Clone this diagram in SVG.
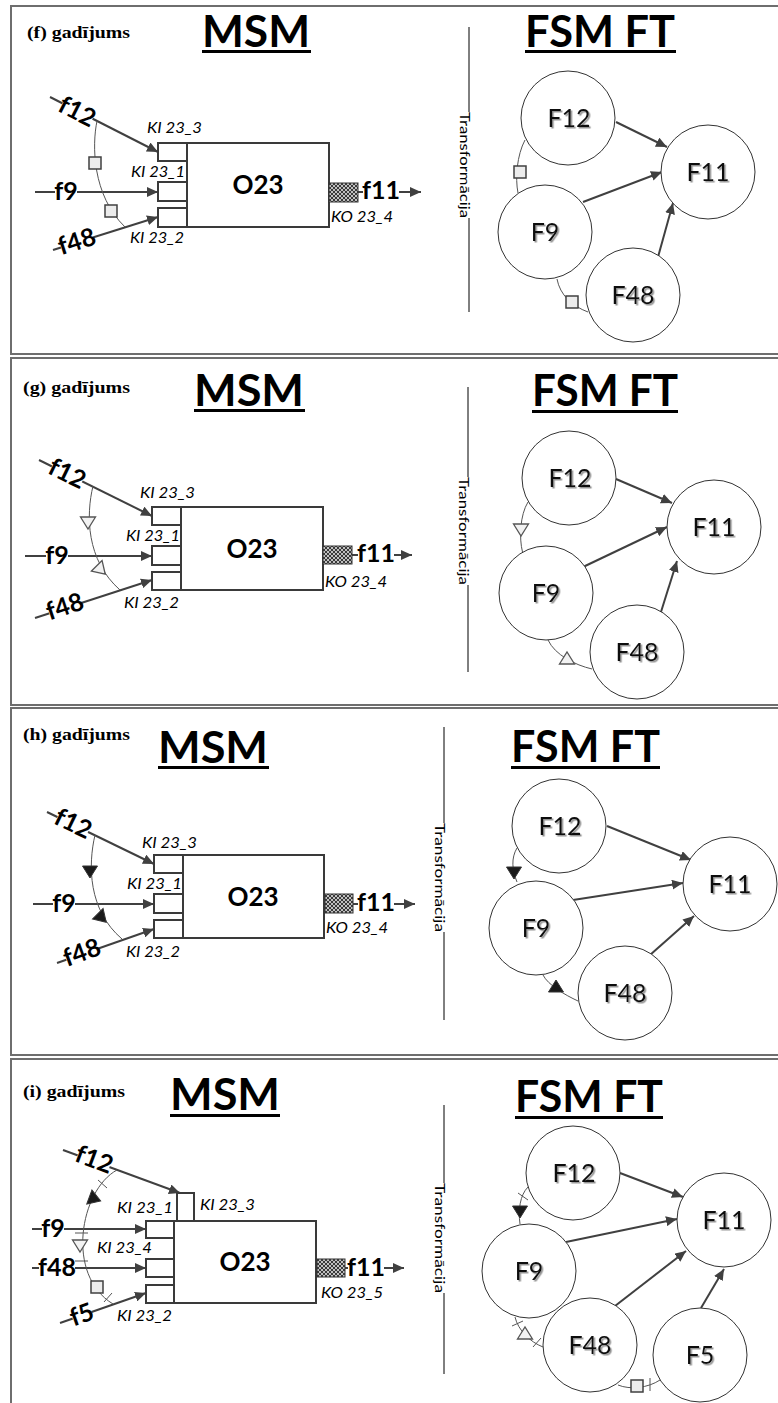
<svg xmlns="http://www.w3.org/2000/svg" width="778" height="1403" viewBox="0 0 778 1403">
<style>
.frame{fill:none;stroke:#6e6e6e;stroke-width:2}
.case{font-family:"Liberation Serif",serif;font-weight:bold;font-size:17px;fill:#000}
.title{font-family:Lato,"Open Sans",sans-serif;font-weight:bold;font-size:43px;fill:#000}
.ul{fill:#000}
.tr{font-family:Lato,"Open Sans",sans-serif;font-size:14px;fill:#000}
.vl{stroke:#000;stroke-width:1;fill:none}
.port{fill:#fff;stroke:#3a3a3a;stroke-width:2}
.box{fill:#fff;stroke:#3a3a3a;stroke-width:2}
.hatch{fill:url(#hp);stroke:#333;stroke-width:1}
.obj{font-family:Lato,"Open Sans",sans-serif;font-weight:bold;font-size:26px;fill:#000;text-anchor:middle}
.ki{font-family:Lato,"Open Sans",sans-serif;font-style:italic;font-size:15px;fill:#000}
.fl{font-family:Lato,"Open Sans",sans-serif;font-weight:bold;font-size:25px;fill:#000}
.flc{text-anchor:middle}
.bg{fill:#fff;stroke:none}
.arr{stroke:#404040;stroke-width:2;fill:none;marker-end:url(#ah)}
.cv{stroke:#555;stroke-width:1;fill:none}
.sq{fill:#ececec;stroke:#404040;stroke-width:1.5}
.tw{fill:#f2f2f2;stroke:#555;stroke-width:1.3}
.tb{fill:#1a1a1a;stroke:#333;stroke-width:1}
.tick{stroke:#555;stroke-width:1;fill:none}
.circ{fill:#fff;stroke:#333;stroke-width:1}
.fn{font-family:Lato,"Open Sans",sans-serif;font-size:25px;fill:#111;text-anchor:middle;filter:url(#sh)}
</style>
<defs>
<marker id="ah" markerUnits="userSpaceOnUse" markerWidth="12" markerHeight="10" refX="11" refY="5" orient="auto"><path d="M0,0 L11,5 L0,10 z" fill="#404040"/></marker>
<pattern id="hp" width="4" height="4" patternUnits="userSpaceOnUse"><rect width="4" height="4" fill="#3a3a3a"/><path d="M0,0 L4,4 M4,0 L0,4" stroke="#cfcfcf" stroke-width="0.9"/></pattern>
<filter id="sh" x="-20%" y="-20%" width="150%" height="150%"><feDropShadow dx="1.5" dy="1.5" stdDeviation="0.6" flood-color="#888" flood-opacity="0.9"/></filter>
</defs>
<rect width="778" height="1403" fill="#fff"/>

<!-- ================= PANEL F ================= -->
<g id="panel-f">
<rect class="frame" x="11" y="6" width="790" height="348"/>
<text class="case" x="27" y="38" textLength="103" lengthAdjust="spacingAndGlyphs">(f) gadījums</text>
<text class="title" x="202" y="47" textLength="108" lengthAdjust="spacingAndGlyphs">MSM</text>
<rect class="ul" x="202" y="50" width="109" height="3"/>
<text class="title" x="525" y="47" textLength="150" lengthAdjust="spacingAndGlyphs">FSM FT</text>
<rect class="ul" x="525" y="50" width="151" height="3"/>
<g id="f-transform">
<line class="vl" x1="469" y1="27" x2="469" y2="112"/>
<text class="tr" transform="translate(460,112) rotate(90)" textLength="106" lengthAdjust="spacingAndGlyphs">Transformācija</text>
<line class="vl" x1="469" y1="218" x2="469" y2="312"/>
</g>
<g id="f-connectors">
<line class="arr" x1="50" y1="97" x2="158" y2="152"/>
<line class="arr" x1="35" y1="192" x2="158" y2="192"/>
<line class="arr" x1="53" y1="250" x2="158" y2="217"/>
<line class="arr" x1="358" y1="192" x2="421" y2="192"/>
<path class="cv" d="M97,121 C92,145 92,195 125,227"/>
<rect class="sq" x="89" y="157" width="12" height="12"/>
<rect class="sq" x="105" y="205" width="12" height="12"/>
<line class="arr" x1="616" y1="122" x2="667" y2="147"/>
<line class="arr" x1="583" y1="202" x2="662" y2="172"/>
<line class="arr" x1="658" y1="257" x2="673" y2="203"/>
<path class="cv" d="M525,140 C517,155 515,178 518,193"/>
<rect class="sq" x="514" y="166" width="12" height="12"/>
<path class="cv" d="M557,279 C560,295 572,306 588,312"/>
<rect class="sq" x="566" y="296" width="12" height="12"/>
</g>
<g id="f-O23">
<rect class="port" x="158" y="143" width="29" height="18"/>
<rect class="port" x="158" y="182" width="29" height="19"/>
<rect class="port" x="158" y="208" width="29" height="19"/>
<rect class="box" x="187" y="143" width="142" height="84"/>
<rect class="hatch" x="329" y="183" width="29" height="19"/>
<text class="obj" x="258" y="194">O23</text>
<text class="ki" x="147" y="133" textLength="55" lengthAdjust="spacingAndGlyphs">KI 23_3</text>
<text class="ki" x="131" y="177" textLength="54" lengthAdjust="spacingAndGlyphs">KI 23_1</text>
<text class="ki" x="130" y="243" textLength="54" lengthAdjust="spacingAndGlyphs">KI 23_2</text>
<text class="ki" x="331" y="222" textLength="62" lengthAdjust="spacingAndGlyphs">KO 23_4</text>
</g>
<g id="f-flows">
<g transform="translate(77,112) rotate(27)"><rect class="bg" x="-17" y="-6" width="34" height="12"/><text class="fl flc" y="8">f12</text></g>
<rect class="bg" x="55" y="186" width="22" height="12"/><text class="fl flc" x="66" y="200">f9</text>
<g transform="translate(77,242) rotate(-17.6)"><rect class="bg" x="-17" y="-6" width="34" height="12"/><text class="fl flc" y="8">f48</text></g>
<rect class="bg" x="363" y="186" width="36" height="12"/><text class="fl" x="362" y="199">f11</text>
</g>
<g id="f-F12"><circle class="circ" cx="568" cy="118" r="47"/><text class="fn" x="569" y="127">F12</text></g>
<g id="f-F11"><circle class="circ" cx="708" cy="172" r="47"/><text class="fn" x="708" y="181">F11</text></g>
<g id="f-F9"><circle class="circ" cx="545" cy="232" r="47"/><text class="fn" x="545" y="241">F9</text></g>
<g id="f-F48"><circle class="circ" cx="633" cy="295" r="47"/><text class="fn" x="633" y="304">F48</text></g>
</g>

<!-- ================= PANEL G ================= -->
<g id="panel-g">
<rect class="frame" x="11" y="358" width="790" height="347"/>
<text class="case" x="23" y="393" textLength="107" lengthAdjust="spacingAndGlyphs">(g) gadījums</text>
<text class="title" x="194" y="406" textLength="110" lengthAdjust="spacingAndGlyphs">MSM</text>
<rect class="ul" x="194" y="409" width="111" height="3"/>
<text class="title" x="532" y="406" textLength="146" lengthAdjust="spacingAndGlyphs">FSM FT</text>
<rect class="ul" x="532" y="410" width="146" height="3"/>
<g id="g-transform">
<line class="vl" x1="468" y1="387" x2="468" y2="477"/>
<text class="tr" transform="translate(459,477) rotate(90)" textLength="108" lengthAdjust="spacingAndGlyphs">Transformācija</text>
<line class="vl" x1="468" y1="585" x2="468" y2="672"/>
</g>
<g id="g-connectors">
<line class="arr" x1="39" y1="460" x2="152" y2="516"/>
<line class="arr" x1="25" y1="556" x2="152" y2="556"/>
<line class="arr" x1="35" y1="618" x2="152" y2="580"/>
<line class="arr" x1="352" y1="555" x2="412" y2="555"/>
<path class="cv" d="M93,486 C86,515 86,560 120,590"/>
<polygon class="tw" transform="translate(88,523)" points="-7.5,-6 7.5,-6 0,6"/>
<polygon class="tw" transform="translate(101,570) rotate(-45)" points="-7.5,-6 7.5,-6 0,6"/>
<line class="arr" x1="616" y1="479" x2="672" y2="503"/>
<line class="arr" x1="583" y1="567" x2="667" y2="527"/>
<line class="arr" x1="660" y1="615" x2="677" y2="561"/>
<path class="cv" d="M528,502 C520,515 519,538 522.5,552"/>
<polygon class="tw" transform="translate(521,530)" points="-7.5,-6 7.5,-6 0,6"/>
<path class="cv" d="M548,640 C555,655 575,665 592,669"/>
<polygon class="tw" transform="translate(567,658)" points="-7.5,6 7.5,6 0,-6"/>
</g>
<g id="g-O23">
<rect class="port" x="152" y="507" width="29" height="18"/>
<rect class="port" x="152" y="546" width="29" height="19"/>
<rect class="port" x="152" y="572" width="29" height="18"/>
<rect class="box" x="181" y="507" width="142" height="83"/>
<rect class="hatch" x="323" y="546" width="29" height="18"/>
<text class="obj" x="252" y="558">O23</text>
<text class="ki" x="140" y="498" textLength="55" lengthAdjust="spacingAndGlyphs">KI 23_3</text>
<text class="ki" x="126" y="541" textLength="54" lengthAdjust="spacingAndGlyphs">KI 23_1</text>
<text class="ki" x="124" y="608" textLength="55" lengthAdjust="spacingAndGlyphs">KI 23_2</text>
<text class="ki" x="325" y="587" textLength="62" lengthAdjust="spacingAndGlyphs">KO 23_4</text>
</g>
<g id="g-flows">
<g transform="translate(67,474) rotate(26)"><rect class="bg" x="-17" y="-6" width="34" height="12"/><text class="fl flc" y="8">f12</text></g>
<rect class="bg" x="46" y="550" width="22" height="12"/><text class="fl flc" x="57" y="564">f9</text>
<g transform="translate(65,607) rotate(-18.4)"><rect class="bg" x="-17" y="-6" width="34" height="12"/><text class="fl flc" y="8">f48</text></g>
<rect class="bg" x="358" y="549" width="36" height="12"/><text class="fl" x="357" y="562">f11</text>
</g>
<g id="g-F12"><circle class="circ" cx="569" cy="478" r="47"/><text class="fn" x="570" y="487">F12</text></g>
<g id="g-F11"><circle class="circ" cx="714" cy="527" r="47"/><text class="fn" x="714" y="536">F11</text></g>
<g id="g-F9"><circle class="circ" cx="546" cy="593" r="47"/><text class="fn" x="546" y="602">F9</text></g>
<g id="g-F48"><circle class="circ" cx="637" cy="652" r="47"/><text class="fn" x="637" y="661">F48</text></g>
</g>

<!-- ================= PANEL H ================= -->
<g id="panel-h">
<rect class="frame" x="11" y="708" width="790" height="347"/>
<text class="case" x="23" y="740" textLength="107" lengthAdjust="spacingAndGlyphs">(h) gadījums</text>
<text class="title" x="158" y="763" textLength="110" lengthAdjust="spacingAndGlyphs">MSM</text>
<rect class="ul" x="158" y="766" width="111" height="3"/>
<text class="title" x="511" y="762" textLength="149" lengthAdjust="spacingAndGlyphs">FSM FT</text>
<rect class="ul" x="511" y="766" width="149" height="3"/>
<g id="h-transform">
<line class="vl" x1="444" y1="727" x2="444" y2="823"/>
<text class="tr" transform="translate(435,823) rotate(90)" textLength="109" lengthAdjust="spacingAndGlyphs">Transformācija</text>
<line class="vl" x1="444" y1="932" x2="444" y2="1020"/>
</g>
<g id="h-connectors">
<line class="arr" x1="47" y1="812" x2="154" y2="864"/>
<line class="arr" x1="33" y1="904" x2="154" y2="904"/>
<line class="arr" x1="57" y1="963" x2="154" y2="929"/>
<line class="arr" x1="353" y1="904" x2="415" y2="904"/>
<path class="cv" d="M95,835 C88,865 88,910 122,939"/>
<polygon class="tb" transform="translate(90,872)" points="-7.5,-6 7.5,-6 0,6"/>
<polygon class="tb" transform="translate(102,918) rotate(-45)" points="-7.5,-6 7.5,-6 0,6"/>
<line class="arr" x1="607" y1="826" x2="691" y2="860"/>
<line class="arr" x1="573" y1="900" x2="683" y2="883"/>
<line class="arr" x1="650" y1="955" x2="694" y2="916"/>
<path class="cv" d="M517,848 C511,858 512,870 517,882"/>
<polygon class="tb" transform="translate(514,873)" points="-7.5,-6 7.5,-6 0,6"/>
<path class="cv" d="M543,975 C548,985 565,995 578,1001"/>
<polygon class="tb" transform="translate(556,986)" points="-7.5,6 7.5,6 0,-6"/>
</g>
<g id="h-O23">
<rect class="port" x="154" y="855" width="29" height="18"/>
<rect class="port" x="154" y="894" width="29" height="19"/>
<rect class="port" x="154" y="920" width="29" height="18"/>
<rect class="box" x="183" y="855" width="141" height="83"/>
<rect class="hatch" x="325" y="894" width="28" height="19"/>
<text class="obj" x="253" y="906">O23</text>
<text class="ki" x="142" y="848" textLength="55" lengthAdjust="spacingAndGlyphs">KI 23_3</text>
<text class="ki" x="127" y="889" textLength="55" lengthAdjust="spacingAndGlyphs">KI 23_1</text>
<text class="ki" x="126" y="957" textLength="54" lengthAdjust="spacingAndGlyphs">KI 23_2</text>
<text class="ki" x="326" y="933" textLength="62" lengthAdjust="spacingAndGlyphs">KO 23_4</text>
</g>
<g id="h-flows">
<g transform="translate(73,824) rotate(25.7)"><rect class="bg" x="-17" y="-6" width="34" height="12"/><text class="fl flc" y="8">f12</text></g>
<rect class="bg" x="53" y="898" width="22" height="12"/><text class="fl flc" x="64" y="912">f9</text>
<g transform="translate(82,953) rotate(-20)"><rect class="bg" x="-17" y="-6" width="34" height="12"/><text class="fl flc" y="8">f48</text></g>
<rect class="bg" x="358" y="898" width="36" height="12"/><text class="fl" x="357" y="911">f11</text>
</g>
<g id="h-F12"><circle class="circ" cx="559" cy="826" r="47"/><text class="fn" x="560" y="835">F12</text></g>
<g id="h-F11"><circle class="circ" cx="730" cy="884" r="47"/><text class="fn" x="730" y="893">F11</text></g>
<g id="h-F9"><circle class="circ" cx="536" cy="928" r="47"/><text class="fn" x="536" y="937">F9</text></g>
<g id="h-F48"><circle class="circ" cx="625" cy="993" r="47"/><text class="fn" x="625" y="1002">F48</text></g>
</g>

<!-- ================= PANEL I ================= -->
<g id="panel-i">
<rect class="frame" x="11" y="1059" width="790" height="400"/>
<text class="case" x="23" y="1097" textLength="102" lengthAdjust="spacingAndGlyphs">(i) gadījums</text>
<text class="title" x="170" y="1110" textLength="110" lengthAdjust="spacingAndGlyphs">MSM</text>
<rect class="ul" x="170" y="1114" width="110" height="3"/>
<text class="title" x="515" y="1112" textLength="148" lengthAdjust="spacingAndGlyphs">FSM FT</text>
<rect class="ul" x="515" y="1116" width="148" height="3"/>
<g id="i-transform">
<line class="vl" x1="444" y1="1105" x2="444" y2="1183"/>
<text class="tr" transform="translate(435,1183) rotate(90)" textLength="110" lengthAdjust="spacingAndGlyphs">Transformācija</text>
<line class="vl" x1="444" y1="1293" x2="444" y2="1374"/>
</g>
<g id="i-connectors">
<line class="arr" x1="63" y1="1150" x2="180" y2="1193"/>
<line class="arr" x1="32" y1="1229" x2="146" y2="1229"/>
<line class="arr" x1="32" y1="1268" x2="146" y2="1268"/>
<line class="arr" x1="60" y1="1323" x2="146" y2="1293"/>
<line class="arr" x1="345" y1="1268" x2="404" y2="1268"/>
<path class="cv" d="M117,1170 C80,1190 65,1275 113,1304"/>
<line class="tick" x1="98" y1="1180" x2="107" y2="1188"/>
<polygon class="tb" transform="translate(95,1199) rotate(-70)" points="-7.5,-6 7.5,-6 0,6"/>
<line class="tick" x1="75" y1="1233" x2="88" y2="1233"/>
<polygon class="tw" transform="translate(80,1246)" points="-7.5,-6 7.5,-6 0,6"/>
<line class="tick" x1="75" y1="1261" x2="88" y2="1261"/>
<rect class="sq" x="91" y="1281" width="12" height="12"/>
<line class="tick" x1="104" y1="1302" x2="112" y2="1293"/>
<line class="arr" x1="620" y1="1173" x2="683" y2="1197"/>
<line class="arr" x1="566" y1="1242" x2="677" y2="1219"/>
<line class="arr" x1="615" y1="1306" x2="686" y2="1251"/>
<line class="arr" x1="701" y1="1308" x2="724" y2="1269"/>
<path class="cv" d="M528,1187 C520,1195 518,1210 520,1224"/>
<line class="tick" x1="518" y1="1193" x2="528" y2="1200"/>
<polygon class="tb" transform="translate(520,1212)" points="-7.5,-6 7.5,-6 0,6"/>
<path class="cv" d="M515,1317 C518,1330 530,1342 543,1347"/>
<line class="tick" x1="512" y1="1326" x2="523" y2="1321"/>
<polygon class="tw" transform="translate(525,1333)" points="-7.5,6 7.5,6 0,-6"/>
<line class="tick" x1="533" y1="1347" x2="541" y2="1338"/>
<path class="cv" d="M618,1385 C630,1390 648,1388 660,1380"/>
<rect class="sq" x="631" y="1380" width="12" height="12"/>
<line class="tick" x1="650" y1="1378" x2="650" y2="1391"/>
</g>
<g id="i-O23">
<rect class="port" x="177" y="1193" width="17" height="28"/>
<rect class="port" x="146" y="1221" width="28" height="17"/>
<rect class="port" x="146" y="1259" width="28" height="18"/>
<rect class="port" x="146" y="1285" width="28" height="18"/>
<rect class="box" x="174" y="1221" width="142" height="82"/>
<rect class="hatch" x="317" y="1259" width="28" height="18"/>
<text class="obj" x="245" y="1271">O23</text>
<text class="ki" x="117" y="1213" textLength="56" lengthAdjust="spacingAndGlyphs">KI 23_1</text>
<text class="ki" x="200" y="1210" textLength="55" lengthAdjust="spacingAndGlyphs">KI 23_3</text>
<text class="ki" x="97" y="1253" textLength="55" lengthAdjust="spacingAndGlyphs">KI 23_4</text>
<text class="ki" x="117" y="1321" textLength="55" lengthAdjust="spacingAndGlyphs">KI 23_2</text>
<text class="ki" x="321" y="1298" textLength="62" lengthAdjust="spacingAndGlyphs">KO 23_5</text>
</g>
<g id="i-flows">
<g transform="translate(94,1160) rotate(20.5)"><rect class="bg" x="-17" y="-6" width="34" height="12"/><text class="fl flc" y="8">f12</text></g>
<rect class="bg" x="42" y="1223" width="22" height="12"/><text class="fl flc" x="53" y="1237">f9</text>
<rect class="bg" x="39" y="1262" width="36" height="12"/><text class="fl flc" x="57" y="1276">f48</text>
<g transform="translate(82,1315) rotate(-19.5)"><rect class="bg" x="-10" y="-6" width="20" height="12"/><text class="fl flc" y="8">f5</text></g>
<rect class="bg" x="348" y="1262" width="36" height="12"/><text class="fl" x="347" y="1276">f11</text>
</g>
<g id="i-F12"><circle class="circ" cx="573" cy="1173" r="47"/><text class="fn" x="574" y="1182">F12</text></g>
<g id="i-F11"><circle class="circ" cx="724" cy="1220" r="47"/><text class="fn" x="724" y="1229">F11</text></g>
<g id="i-F9"><circle class="circ" cx="529" cy="1271" r="47"/><text class="fn" x="529" y="1280">F9</text></g>
<g id="i-F48"><circle class="circ" cx="590" cy="1345" r="47"/><text class="fn" x="590" y="1354">F48</text></g>
<g id="i-F5"><circle class="circ" cx="700" cy="1355" r="47"/><text class="fn" x="700" y="1364">F5</text></g>
</g>
</svg>
